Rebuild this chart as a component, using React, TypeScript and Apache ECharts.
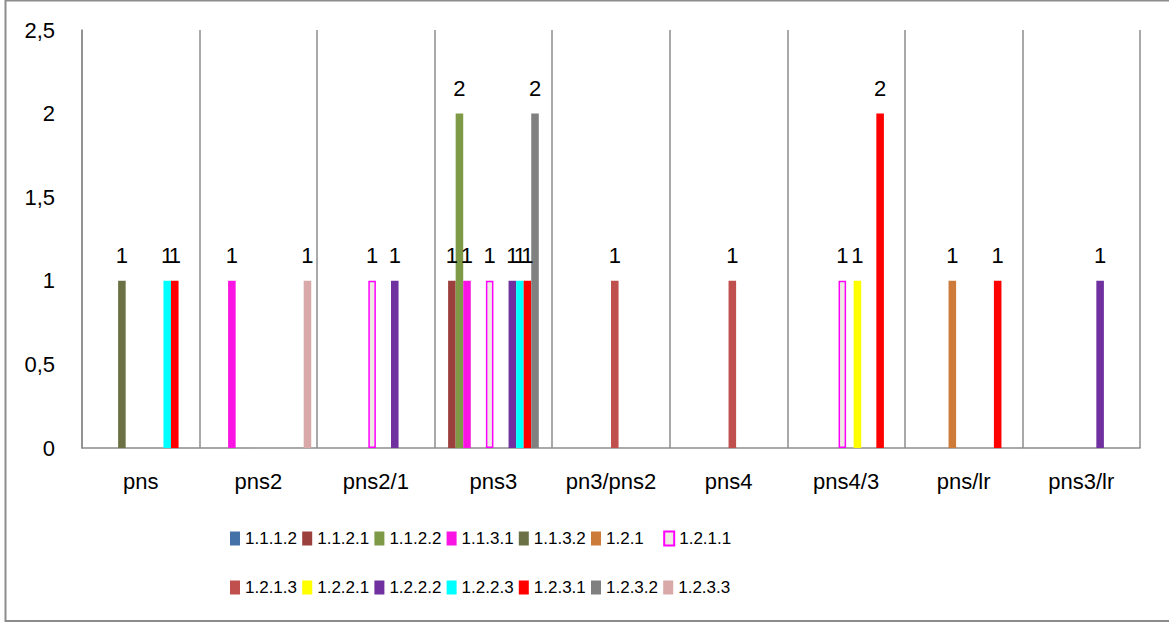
import React, { useEffect, useRef } from "react";
import * as echarts from "echarts";

const categories = ["pns", "pns2", "pns2/1", "pns3", "pn3/pns2", "pns4", "pns4/3", "pns/lr", "pns3/lr"];

const seriesNames = [
  "1.1.1.2", "1.1.2.1", "1.1.2.2", "1.1.3.1", "1.1.3.2", "1.2.1", "1.2.1.1",
  "1.2.1.3", "1.2.2.1", "1.2.2.2", "1.2.2.3", "1.2.3.1", "1.2.3.2", "1.2.3.3",
];

const seriesColors = [
  "#4471A8", "#9C403D", "#7E9A47", "#FA14E4", "#6B7145", "#CC7B3B", "#EEEBE2",
  "#C0504D", "#FFFF00", "#7030A0", "#00FFFF", "#FF0000", "#808080", "#D9A8A8",
];

// values per series, in category order (null = no bar)
const v_1_1_1_2 = [null, null, null, null, null, null, null, null, null];
const v_1_1_2_1 = [null, null, null, 1, null, null, null, null, null];
const v_1_1_2_2 = [null, null, null, 2, null, null, null, null, null];
const v_1_1_3_1 = [null, 1, null, 1, null, null, null, null, null];
const v_1_1_3_2 = [1, null, null, null, null, null, null, null, null];
const v_1_2_1 = [null, null, null, null, null, null, null, 1, null];
const v_1_2_1_1 = [null, null, 1, 1, null, null, 1, null, null];
const v_1_2_1_3 = [null, null, null, null, 1, 1, null, null, null];
const v_1_2_2_1 = [null, null, null, null, null, null, 1, null, null];
const v_1_2_2_2 = [null, null, 1, 1, null, null, null, null, 1];
const v_1_2_2_3 = [1, null, null, 1, null, null, null, null, null];
const v_1_2_3_1 = [1, null, null, 1, null, null, 2, 1, null];
const v_1_2_3_2 = [null, null, null, 2, null, null, null, null, null];
const v_1_2_3_3 = [null, 1, null, null, null, null, null, null, null];

const seriesValues = [
  v_1_1_1_2, v_1_1_2_1, v_1_1_2_2, v_1_1_3_1, v_1_1_3_2, v_1_2_1, v_1_2_1_1,
  v_1_2_1_3, v_1_2_2_1, v_1_2_2_2, v_1_2_2_3, v_1_2_3_1, v_1_2_3_2, v_1_2_3_3,
];

const yTicks = { min: 0, max: 2.5, interval: 0.5 };

const FONT = "'Liberation Sans', Arial, sans-serif";

export default function App() {
  const ref = useRef<HTMLDivElement>(null);

  useEffect(() => {
    document.body.style.margin = "0";
    document.body.style.overflow = "hidden";
    if (!ref.current) return;
    const chart = echarts.init(ref.current, undefined, { renderer: "svg" });

    const series = seriesNames.map((name, i) => ({
      name,
      type: "bar",
      data: seriesValues[i],
      barGap: "0%",
      barCategoryGap: "10%",
      itemStyle:
        name === "1.2.1.1"
          ? { color: seriesColors[i], borderColor: "#FF00FF", borderWidth: 1.5 }
          : { color: seriesColors[i] },
      label: {
        show: true,
        position: "top",
        distance: 14,
        color: "#000",
        fontSize: 22,
        fontFamily: FONT,
      },
    }));

    // one legend per item so the items sit in fixed columns, two rows of seven
    const legends = seriesNames.map((name, i) => ({
      orient: "horizontal",
      left: 230 + (i % 7) * 72.2,
      top: i < 7 ? 530 : 579,
      padding: 0,
      itemWidth: 10,
      itemHeight: 14,
      icon: "rect",
      selectedMode: false,
      data: [name],
      textStyle: { fontSize: 17, fontFamily: FONT, color: "#000" },
    }));

    chart.setOption({
      animation: false,
      backgroundColor: "#fff",
      textStyle: { fontFamily: FONT },
      grid: { left: 82, right: 29, top: 30, bottom: 177, containLabel: false },
      graphic: [
        {
          type: "rect",
          shape: { x: 5.5, y: 0.5, width: 1170, height: 620.5 },
          style: { fill: "none", stroke: "#8c8c8c", lineWidth: 2 },
          silent: true,
        },
      ],
      legend: legends,
      xAxis: {
        type: "category",
        data: categories,
        axisLine: { show: true, lineStyle: { color: "#8c8c8c", width: 1.5 } },
        axisTick: { show: false },
        splitLine: { show: true, interval: 0, lineStyle: { color: "#8c8c8c", width: 1.5 } },
        axisLabel: { interval: 0, color: "#000", fontSize: 22, fontFamily: FONT, margin: 22 },
      },
      yAxis: {
        type: "value",
        min: yTicks.min,
        max: yTicks.max,
        interval: yTicks.interval,
        axisLine: { show: true, lineStyle: { color: "#8c8c8c", width: 1.5 } },
        axisTick: { show: false },
        splitLine: { show: false },
        axisLabel: {
          color: "#000",
          fontSize: 22,
          fontFamily: FONT,
          margin: 27,
          formatter: (v: number) => String(v).replace(".", ","),
        },
      },
      series,
    });

    return () => chart.dispose();
  }, []);

  return <div ref={ref} style={{ width: 1169, height: 625 }} />;
}
